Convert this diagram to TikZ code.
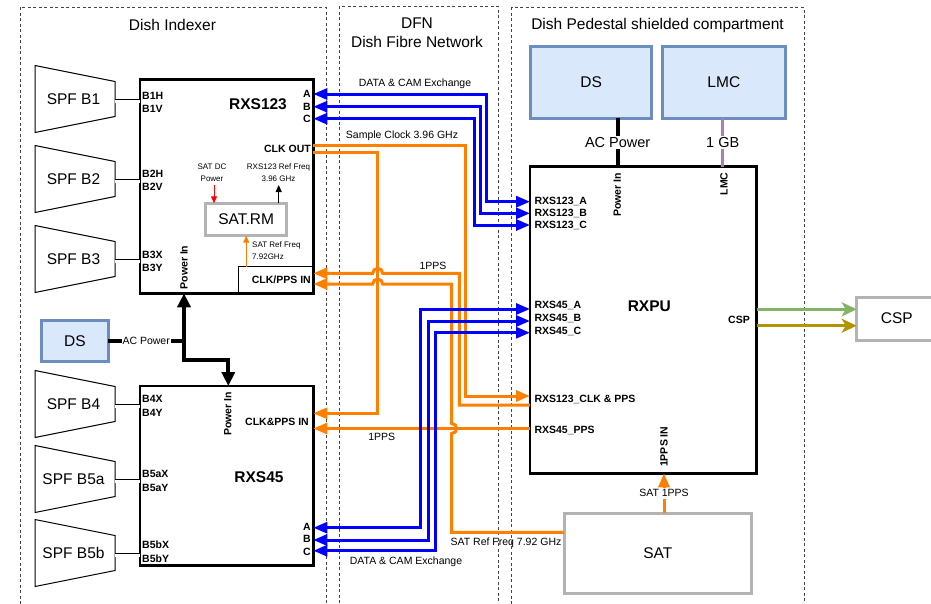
\documentclass[tikz,border=0pt]{standalone}
\usepackage{fontspec}
\setmainfont{Liberation Sans}
\usetikzlibrary{arrows.meta}
\definecolor{blu}{HTML}{0000FF}
\definecolor{org}{HTML}{FF8000}
\definecolor{dsfill}{HTML}{DAE8FC}
\definecolor{dsdraw}{HTML}{6C8EBF}
\definecolor{gry}{HTML}{B3B3B3}
\definecolor{purp}{HTML}{A680B8}
\definecolor{grn}{HTML}{82B366}
\definecolor{olv}{HTML}{B09500}
\definecolor{frm}{HTML}{444444}
\begin{document}
\begin{tikzpicture}[x=1pt,y=-1pt,
  frame/.style={draw=frm, dash pattern=on 3pt off 2.5pt, line width=1pt},
  title/.style={inner sep=0, font=\fontsize{15.5}{19}\selectfont, align=center},
  box/.style={draw, rectangle, inner sep=0, outer sep=0, font=\fontsize{15.5}{18}\selectfont},
  bigbox/.style={box, line width=2.8pt},
  bluebox/.style={box, fill=dsfill, draw=dsdraw, line width=3pt},
  graybox/.style={box, draw=gry, line width=3pt},
  port/.style={inner sep=0, font=\fontsize{10.5}{12}\selectfont\bfseries},
  vport/.style={port, rotate=90},
  boxname/.style={inner sep=0, font=\fontsize{15.5}{18}\selectfont\bfseries},
  lab/.style={inner sep=0, font=\fontsize{10.5}{12}\selectfont},
  tinylab/.style={inner sep=0, font=\fontsize{8}{11.5}\selectfont},
  bl/.style={draw=blu, line width=3pt, arrows={Triangle[length=14pt,width=11pt]-Triangle[length=14pt,width=11pt]}},
  og/.style={draw=org, line width=3pt, -{Triangle[length=14pt,width=11pt]}},
  pw/.style={draw=black, line width=3.8pt, -{Triangle[length=14pt,width=13pt]}},
  pwplain/.style={draw=black, line width=3.8pt},
  dbl/.style={draw=black, double=white, double distance=3pt, line width=0.7pt},
  spf/.style={draw=black, line width=1pt},
  thinarr/.style={line width=1pt, -{Triangle[length=7pt,width=6pt]}},
  csparr/.style={line width=3pt, -{Stealth[length=15pt,width=14pt,inset=4pt]}},
]
\useasboundingbox (0,0) rectangle (931,603);
\fill[white] (0,0) rectangle (931,603);
\clip (0,0) rectangle (931,603);

% frames
\draw[frame] (20.7,7.3) rectangle (326,620);
\draw[frame] (339,6) rectangle (498,620);
\draw[frame] (511.7,7.3) rectangle (804,620);
\node[title] (t1) at (172.5,25) {Dish Indexer};
\node[title] (t2) at (417,32.5) {DFN\\Dish Fibre Network};
\node[title] (t3) at (657.5,25) {Dish Pedestal shielded compartment};

% main boxes
\node[bigbox, minimum width=173.3pt, minimum height=214pt] (rxs123) at (226.65,186.3) {};
\node[bigbox, minimum width=173.3pt, minimum height=179.7pt] (rxs45) at (226.65,475.85) {};
\node[bigbox, minimum width=226.7pt, minimum height=306.6pt] (rxpu) at (643.35,320) {};
\node[draw, line width=0.8pt, inner sep=0, outer sep=0, minimum width=75pt, minimum height=26.6pt] (clkin) at (275.8,280) {};
\node[graybox, minimum width=81pt, minimum height=32.4pt] (satrm) at (246.2,219.5) {SAT.RM};
\node[graybox, minimum width=187.7pt, minimum height=80pt] (sat) at (657.85,553.3) {SAT};
\node[graybox, minimum width=80.3pt, minimum height=42.7pt] (csp) at (896.85,318.65) {CSP};
\node[bluebox, minimum width=121pt, minimum height=72.3pt] (ds2) at (591.2,82.15) {DS};
\node[bluebox, minimum width=122.3pt, minimum height=72.3pt] (lmc) at (723.85,82.15) {LMC};
\node[bluebox, minimum width=66.6pt, minimum height=41.7pt] (ds1) at (75,340.85) {DS};

% box names
\node[boxname] (n123) at (258,104) {RXS123};
\node[boxname] (n45) at (259,477.3) {RXS45};
\node[boxname] (nrxpu) at (649.3,306) {RXPU};

% SPF feeds
\foreach \nm/\yy/\tx in {spfa/99/SPF B1, spfb/179/SPF B2, spfc/259/SPF B3, spfd/404/SPF B4, spfe/479/SPF B5a, spff/553/SPF B5b} {
  \draw[spf] (35,\yy-33.5) -- (115,\yy-17.5) -- (115,\yy+17.5) -- (35,\yy+33.5) -- cycle;
  \node[inner sep=0, font=\fontsize{15.5}{18}\selectfont] (\nm) at (73.5,\yy) {\tx};
  \coordinate (\nm r) at (115,\yy+2);
}
\foreach \nm in {spfa,spfb,spfc} {\draw[dbl] (\nm r) -- (rxs123.west |- \nm r);}
\foreach \nm in {spfd,spfe,spff} {\draw[dbl] (\nm r) -- (rxs45.west |- \nm r);}

% left port labels
\foreach \tx/\yy in {B1H/96, B1V/109, B2H/173.7, B2V/186.7, B3X/255.3, B3Y/267.7, B4X/399.3, B4Y/413.3, B5aX/474.3, B5aY/487.7, B5bX/545, B5bY/558.3} {
  \node[port, anchor=west] (p\tx) at (142,\yy) {\tx};
}
% RXS123 right labels
\node[port, anchor=east] (pa1) at (311,94) {A};
\node[port, anchor=east] (pb1) at (311,106.7) {B};
\node[port, anchor=east] (pc1) at (311,118.7) {C};
\node[port, anchor=east] (pclk) at (311,149.3) {CLK OUT};
\node[port, anchor=east] (pclkin) at (311,279.5) {CLK/PPS IN};
% RXS45 right labels
\node[port, anchor=east] (pclk45) at (309,422) {CLK\&PPS IN};
\node[port, anchor=east] (pa2) at (311,526.7) {A};
\node[port, anchor=east] (pb2) at (311,539.3) {B};
\node[port, anchor=east] (pc2) at (311,551.7) {C};
% RXPU labels
\foreach \nm/\tx/\yy in {r1/RXS123\_A/201, r2/RXS123\_B/213, r3/RXS123\_C/225.3, r4/RXS45\_A/305, r5/RXS45\_B/318.5, r6/RXS45\_C/331, r7/RXS123\_CLK \& PPS/399.3, r8/RXS45\_PPS/430} {
  \node[port, anchor=west] (\nm) at (534.3,\yy) {\tx};
}
\node[port, anchor=east] (pcsp) at (750,320) {CSP};
% vertical labels
\node[vport] (pw123) at (184,267.5) {Power In};
\node[vport] (pw45) at (227.7,414) {Power In};
\node[vport] (pwrx) at (617.3,195) {Power In};
\node[vport] (plmc) at (724,184) {LMC};
\node[vport] (p1pps) at (664,446.7) {1PPS IN};

% SAT.RM internals
\node[tinylab, align=center] (satdc) at (212,172.5) {SAT DC\\Power};
\node[tinylab, align=center] (reff) at (278.5,172.5) {RXS123 Ref Freq\\3.96 GHz};
\node[tinylab, align=left, anchor=west] (satref) at (252,250.5) {SAT Ref Freq\\7.92GHz};
\draw[thinarr, draw=red, fill=red] (214,185) -- (satrm.north -| 214,0);
\draw[thinarr, draw=black, fill=black] (satrm.north -| 278.7,0) -- (278.7,185);
\draw[thinarr, draw=org, fill=org] (satrm.south |- clkin.north) -- (satrm.south);

% power distribution
\coordinate (pj) at (184,340.85);
\draw[pwplain] (ds1.east) -- (pj) node[midway, fill=white, inner sep=1pt, font=\fontsize{10.5}{12}\selectfont] (acp1) {AC Power};
\draw[pw] (pj) -- (pj |- rxs123.south);
\draw[pw] (pj) -- (184,360) -| (228.3,0 |- rxs45.north);
\draw[pwplain] (617.7,0 |- ds2.south) -- (617.7,0 |- rxpu.north) node[midway, fill=white, inner sep=1pt, font=\fontsize{14.5}{17}\selectfont] (acp2) {AC Power};
\draw[draw=purp, line width=2.8pt] (lmc.south -| 722.7,0) -- (722.7,0 |- rxpu.north) node[midway, fill=white, inner sep=1pt, font=\fontsize{14.5}{17}\selectfont] (gb) {1 GB};

% CSP outputs
\draw[csparr, draw=grn, fill=grn] (rxpu.east |- 0,309.3) -- (csp.west |- 0,309.3);
\draw[csparr, draw=olv, fill=olv] (rxpu.east |- 0,325.7) -- (csp.west |- 0,325.7);

% SAT 1PPS
\draw[og] (sat.north -| 664,0) -- (664,0 |- rxpu.south) node[midway, fill=white, inner sep=1.5pt, font=\fontsize{10.5}{12}\selectfont] (s1pps) {SAT 1PPS};

% orange clock / pps lines
\draw[og] (rxs123.east |- 0,145) -| (465.7,396) -- (rxpu.west |- 0,396);
\draw[og] (rxs123.east |- 0,152.7) -| (377.7,413.3) -- (rxs45.east |- 0,413.3);
\draw[og] (rxpu.west |- 0,405) -- (459.3,405) -- (459.3,273.3) -- (382.7,273.3) arc[start angle=0, end angle=180, radius=5pt] -- (rxs123.east |- 0,273.3);
\draw[og] (sat.west |- 0,532.3) -- (451.7,532.3) -- (451.7,433.5) arc[start angle=-90, end angle=90, radius=5pt] -- (451.7,284) -- (382.7,284) arc[start angle=0, end angle=180, radius=5pt] -- (rxs45.east |- 0,284);
\draw[og] (rxpu.west |- 0,428.5) -- (rxs45.east |- 0,428.5);

% blue data lines
\draw[bl] (rxs123.east |- 0,94) -| (486,201.7) -- (rxpu.west |- 0,201.7);
\draw[bl] (rxs123.east |- 0,106.7) -| (480,213.3) -- (rxpu.west |- 0,213.3);
\draw[bl] (rxs123.east |- 0,118.7) -| (474,225) -- (rxpu.west |- 0,225);
\draw[bl] (rxpu.west |- 0,309) -| (420.7,527.7) -- (rxs45.east |- 0,527.7);
\draw[bl] (rxpu.west |- 0,321) -| (428.3,540) -- (rxs45.east |- 0,540);
\draw[bl] (rxpu.west |- 0,332.7) -| (435,550.7) -- (rxs45.east |- 0,550.7);

% link labels
\node[lab] (ldc1) at (415,84) {DATA \& CAM Exchange};
\node[lab] (ldc2) at (406,561.7) {DATA \& CAM Exchange};
\node[lab] (lsc) at (402,135.7) {Sample Clock 3.96 GHz};
\node[lab] (lpps1) at (433,266) {1PPS};
\node[lab] (lpps2) at (381.7,436.7) {1PPS};
\node[lab] (lsatref) at (506,542.3) {SAT Ref Freq 7.92 GHz};
\end{tikzpicture}
\end{document}
